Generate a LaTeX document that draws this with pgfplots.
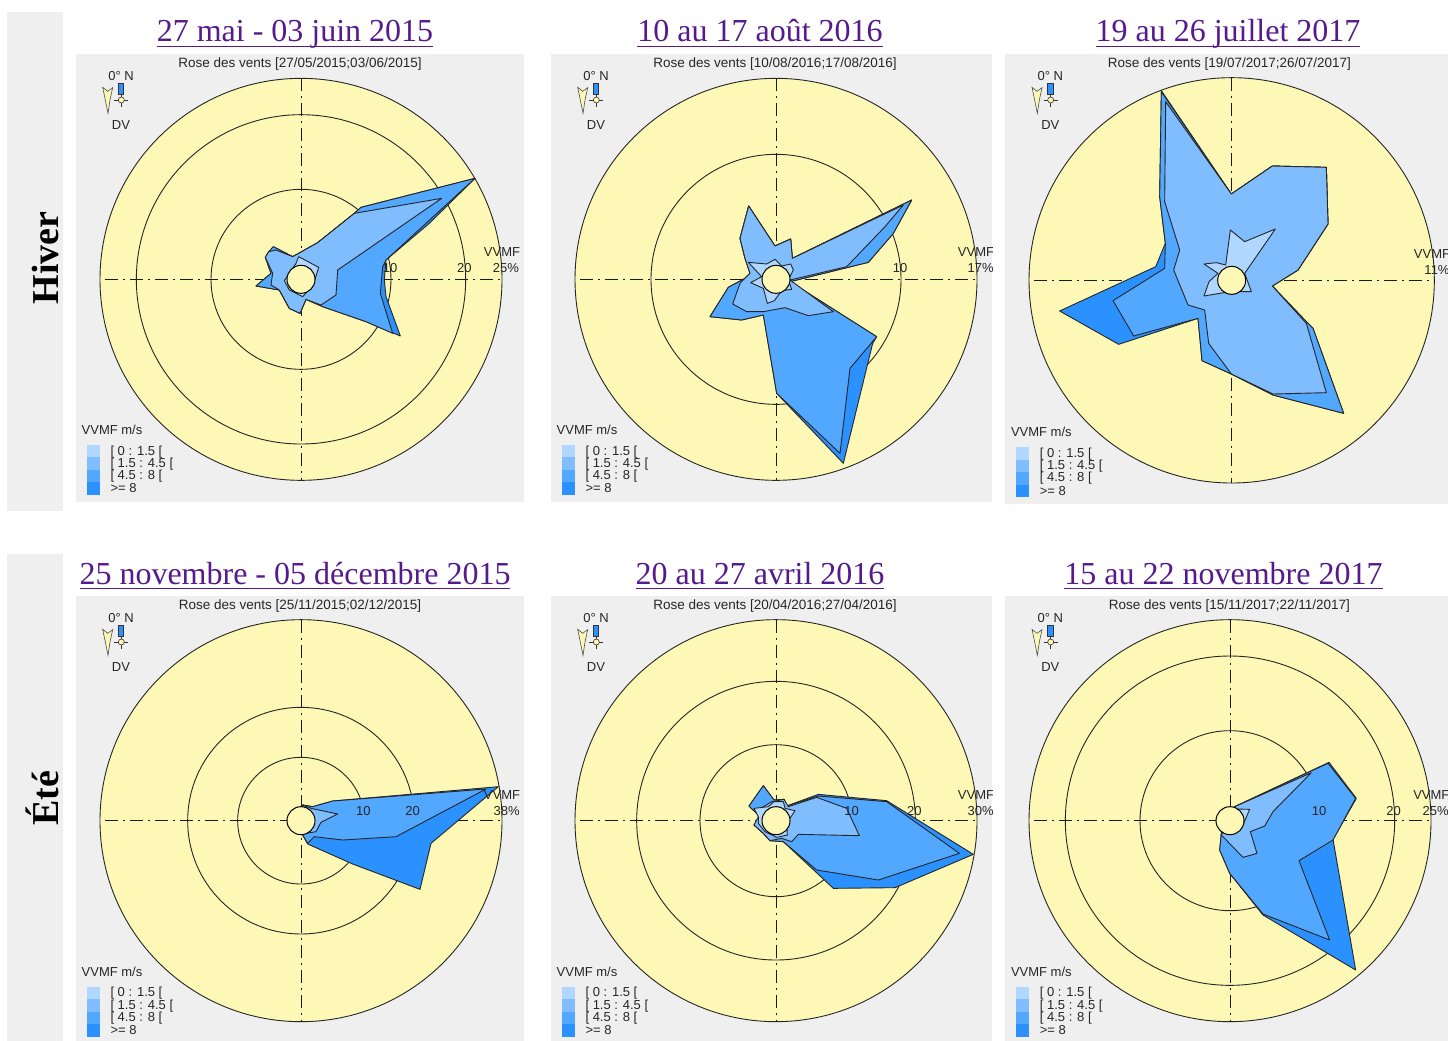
\documentclass[border=0pt]{standalone}
\usepackage{pgfplots}
\pgfplotsset{compat=1.18}
\usepackage{fontspec}
\setmainfont{Liberation Sans}
\newfontfamily\serif{Liberation Serif}
\definecolor{yel}{HTML}{FDF8B5}
\definecolor{pan}{HTML}{EFEFEF}
\definecolor{c1}{HTML}{AFD7FF}
\definecolor{c2}{HTML}{80BDFF}
\definecolor{c3}{HTML}{52A7FF}
\definecolor{c4}{HTML}{2A91FF}
\definecolor{lnk}{HTML}{551A8B}
\pgfplotsset{rose/.style n args={8}{xmin=#1,xmax=#2,ymin=#3,ymax=#4,
  at={(#5pt,-#6pt)},anchor=north west,width=#7pt,height=#8pt,scale only axis,
  y dir=reverse,hide axis,clip mode=global,axis on top=false},
  every axis plot/.append style={line width=0.9pt,draw=black!85,line join=round}}
\tikzset{txt/.style={font=\fontsize{13}{13}\selectfont,text=black!85,inner sep=0pt},
 cross/.style={line width=1pt,draw=black!90,dash pattern=on 13pt off 5pt on 2pt off 5pt}}
% frame: cx cy R
\newcommand\disc[3]{%
 \fill[pan] (rel axis cs:0,0) rectangle (rel axis cs:1,1);
 \draw[fill=yel,line width=0.9pt,draw=black!85] (axis cs:#1,#2) circle[radius=#3/3*1pt];
 \draw[cross] (axis cs:#1-#3+15,#2) -- (axis cs:#1+#3,#2);
 \draw[cross] (axis cs:#1,#2-#3) -- (axis cs:#1,#2+#3);}
\newcommand\ring[3]{\draw[line width=0.9pt,draw=black!85] (axis cs:#1,#2) circle[radius=#3/3*1pt];}
\newcommand\hub[2]{\draw[fill=yel,line width=1pt,draw=black] (axis cs:#1,#2) circle[radius=14pt];}
\newcommand\lab[3]{\node[txt] at (axis cs:#1,#2) {#3};}
% decor: dx dy legend-dy title
\newcommand\decor[4]{%
 \node[txt,font=\fontsize{13.5}{13.5}\selectfont] at (axis cs:672+#1,41+#2) {Rose des vents [#4]};
 \lab{135+#1}{78+#2}{0° N}
 \lab{135+#1}{226+#2}{DV}
 \filldraw[fill=yel,draw=black!70,line width=0.6pt] (axis cs:80+#1,112+#2) -- (axis cs:95+#1,124+#2) -- (axis cs:110+#1,113+#2) -- (axis cs:102+#1,150+#2) -- (axis cs:96+#1,190+#2) -- (axis cs:88+#1,150+#2) -- cycle;
 \filldraw[fill=c4,draw=black!80,line width=0.6pt] (axis cs:127+#1,100+#2) rectangle (axis cs:143+#1,133+#2);
 \draw[draw=black!80,line width=0.6pt] (axis cs:115+#1,150+#2) -- (axis cs:157+#1,150+#2) (axis cs:136+#1,133+#2) -- (axis cs:136+#1,170+#2);
 \draw[draw=black!80,fill=yel,line width=0.6pt] (axis cs:136+#1,150+#2) circle[radius=3pt];
 \lab{108+#1}{1140+#3}{VVMF m/s}
 \fill[c1] (axis cs:33+#1,1185+#3) rectangle (axis cs:72+#1,1222+#3);
 \fill[c2] (axis cs:33+#1,1222+#3) rectangle (axis cs:72+#1,1260+#3);
 \fill[c3] (axis cs:33+#1,1260+#3) rectangle (axis cs:72+#1,1297+#3);
 \fill[c4] (axis cs:33+#1,1297+#3) rectangle (axis cs:72+#1,1335+#3);
 \node[txt,anchor=west] at (axis cs:103+#1,1205+#3) {[ 0 : 1.5 [};
 \node[txt,anchor=west] at (axis cs:103+#1,1242+#3) {[ 1.5 : 4.5 [};
 \node[txt,anchor=west] at (axis cs:103+#1,1278+#3) {[ 4.5 : 8 [};
 \node[txt,anchor=west] at (axis cs:103+#1,1315+#3) {>= 8};}
\newcommand\ttl[3]{\node[inner sep=0pt,anchor=base,text=lnk,font=\serif\fontsize{32}{32}\selectfont] at (#1pt,-#2pt) {\underline{\smash{#3}\rule[-3pt]{0pt}{1pt}}};}
\begin{document}
\begin{tikzpicture}
\path[use as bounding box,fill=white] (0pt,0pt) rectangle (1448pt,-1041pt);
\fill[pan] (7pt,-12pt) rectangle (63pt,-511pt);
\fill[pan] (7pt,-554pt) rectangle (63pt,-1041pt);
\node[rotate=90,anchor=base,inner sep=0pt,font=\serif\bfseries\fontsize{38}{38}\selectfont] at (58pt,-258pt) {Hiver};
\node[rotate=90,anchor=base,inner sep=0pt,font=\serif\bfseries\fontsize{38}{38}\selectfont] at (58pt,-798pt) {Été};
\ttl{295}{42}{27 mai - 03 juin 2015}
\ttl{760}{42}{10 au 17 août 2016}
\ttl{1228}{42}{19 au 26 juillet 2017}
\ttl{295}{584}{25 novembre - 05 décembre 2015}
\ttl{760}{584}{20 au 27 avril 2016}
\ttl{1223.5}{584}{15 au 22 novembre 2017}

% Panel 1
\begin{axis}[rose={0}{1345}{12}{1355}{76}{54}{448.33}{447.67}]
\disc{675}{688}{603}
\ring{675}{688}{270}\ring{675}{688}{494}
\addplot[fill=c4] coordinates {(668,610)(725,578)(835,490)(855,472)(1197,385)(1060,520)(930,630)(925,690)(930,740)(973,858)(870,815)(740,770)(690,748)(672,790)(640,775)(610,720)(540,708)(585,670)(568,622)(592,590)(650,620)} --cycle;
\addplot[fill=c3] coordinates {(668,610)(725,578)(835,490)(855,472)(1197,385)(930,630)(920,650)(913,730)(950,850)(870,815)(740,770)(690,748)(672,790)(640,775)(610,720)(540,708)(585,670)(568,622)(578,605)(592,590)(650,620)} --cycle;
\addplot[fill=c2] coordinates {(668,610)(725,578)(835,490)(1097,445)(785,660)(780,735)(735,765)(690,748)(672,790)(640,775)(610,720)(585,705)(590,670)(568,622)(578,605)(600,600)(650,620)} --cycle;
\addplot[fill=c1] coordinates {(668,620)(728,652)(712,705)(680,740)(640,720)(625,692)(660,640)} --cycle;
\hub{675}{688}
\lab{942}{655}{10}\lab{1165}{655}{20}\lab{1278}{607}{VVMF}\lab{1290}{655}{25\%}
\decor{0}{0}{0}{27/05/2015;03/06/2015}
\end{axis}

% Panel 2
\begin{axis}[rose={3}{1326}{12}{1355}{551}{54}{441}{447.67}]
\disc{678}{688}{603}
\ring{678}{688}{375}
\addplot[fill=c4] coordinates {(596,468)(675,588)(722,567)(727,625)(1085,450)(1030,550)(955,637)(720,695)(980,860)(968,880)(880,1240)(680,1030)(640,795)(575,810)(480,800)(535,712)(585,685)(600,670)(585,625)(570,565)} --cycle;
\addplot[fill=c3] coordinates {(596,468)(675,588)(722,567)(727,625)(1085,450)(1030,550)(955,637)(720,695)(980,860)(900,955)(870,1210)(680,1030)(640,795)(575,810)(480,800)(535,712)(585,685)(600,670)(585,625)(570,565)} --cycle;
\addplot[fill=c2] coordinates {(596,468)(675,588)(722,567)(727,625)(1060,465)(1005,530)(890,650)(720,690)(850,785)(775,797)(705,773)(640,785)(590,785)(548,762)(570,700)(600,670)(585,625)(570,565)} --cycle;
\addplot[fill=c1] coordinates {(595,637)(650,642)(675,628)(695,648)(722,642)(730,660)(715,690)(725,718)(695,722)(673,752)(652,760)(640,715)(602,698)(635,680)} --cycle;
\hub{678}{688}
\lab{1050}{655}{10}\lab{1278}{607}{VVMF}\lab{1292}{655}{17\%}
\decor{3}{0}{0}{10/08/2016;17/08/2016}
\end{axis}

% Panel 3
\begin{axis}[rose={6}{1335}{12}{1362}{1005}{54}{443}{450}]
\disc{686}{691}{608}
\addplot[fill=c4] coordinates {(475,122)(685,432)(808,348)(970,352)(975,522)(885,660)(808,708)(910,815)(930,835)(1022,1090)(810,1035)(685,972)(597,932)(585,805)(347,883)(170,783)(458,650)(487,580)(470,440)} --cycle;
\addplot[fill=c3] coordinates {(475,125)(685,432)(808,348)(970,352)(975,522)(885,660)(808,708)(910,815)(930,835)(1022,1090)(810,1035)(685,972)(597,932)(585,805)(392,858)(330,752)(485,655)(487,580)(470,440)} --cycle;
\addplot[fill=c2] coordinates {(488,155)(685,432)(808,348)(970,352)(975,522)(885,660)(808,708)(910,820)(970,1028)(810,1032)(685,972)(617,880)(605,780)(555,765)(512,660)(530,600)(485,455)} --cycle;
\addplot[fill=c1] coordinates {(682,540)(725,575)(817,537)(725,670)(745,725)(680,725)(603,738)(618,695)(645,670)(603,642)(640,638)(668,645)} --cycle;
\hub{686}{691}
\lab{1287}{612}{VVMF}\lab{1302}{660}{11\%}
\decor{7}{0}{7}{19/07/2017;26/07/2017}
\end{axis}

% Panel 4
\begin{axis}[rose={0}{1345}{18}{1353}{76}{596}{448.33}{445}]
\disc{675}{692}{603}
\ring{675}{692}{190}\ring{675}{692}{340}
\addplot[fill=c4] coordinates {(680,645)(710,650)(770,633)(1267,590)(1065,760)(1032,898)(830,822)(695,762)(680,735)} --cycle;
\addplot[fill=c3] coordinates {(680,645)(710,650)(770,633)(1230,597)(960,740)(800,750)(715,740)(695,760)(680,735)} --cycle;
\addplot[fill=c2] coordinates {(680,645)(705,655)(785,672)(735,697)(720,725)(690,730)} --cycle;
\hub{675}{692}
\lab{862}{662}{10}\lab{1010}{662}{20}\lab{1278}{615}{VVMF}\lab{1292}{662}{38\%}
\decor{0}{6}{5}{25/11/2015;02/12/2015}
\end{axis}

% Panel 5
\begin{axis}[rose={3}{1326}{18}{1353}{551}{596}{441}{445}]
\disc{678}{692}{603}
\ring{678}{692}{228}\ring{678}{692}{418}
\addplot[fill=c4] coordinates {(640,587)(672,630)(702,628)(710,648)(805,613)(1010,632)(1270,793)(1035,893)(850,895)(700,755)(660,752)(640,730)(612,705)(630,680)(597,648)} --cycle;
\addplot[fill=c3] coordinates {(640,587)(672,630)(702,628)(710,648)(805,618)(1010,635)(1228,790)(985,870)(800,840)(700,755)(660,752)(640,730)(612,705)(630,680)(597,648)} --cycle;
\addplot[fill=c2] coordinates {(665,635)(702,628)(715,650)(800,622)(890,655)(928,737)(745,733)(725,755)(695,745)(660,752)(640,730)(612,705)(625,680)(640,650)} --cycle;
\addplot[fill=c1] coordinates {(612,655)(655,650)(672,635)(700,635)(705,655)(735,662)(710,700)(712,735)(680,742)(645,725)(625,700)(625,680)} --cycle;
\hub{678}{692}
\lab{905}{662}{10}\lab{1093}{662}{20}\lab{1278}{615}{VVMF}\lab{1292}{662}{30\%}
\decor{3}{6}{5}{20/04/2016;27/04/2016}
\end{axis}

% Panel 6
\begin{axis}[rose={6}{1335}{18}{1353}{1005}{596}{443}{445}]
\disc{681}{692}{603}
\ring{681}{692}{270}\ring{681}{692}{494}
\addplot[fill=c4] coordinates {(695,650)(978,517)(1060,625)(990,748)(1058,1140)(780,975)(680,850)(650,780)(655,730)} --cycle;
\addplot[fill=c3] coordinates {(695,650)(920,545)(975,520)(1058,625)(990,750)(888,812)(980,1050)(780,972)(680,850)(650,780)(655,730)} --cycle;
\addplot[fill=c2] coordinates {(695,650)(925,548)(810,665)(785,708)(742,725)(762,790)(720,802)(655,735)} --cycle;
\addplot[fill=c1] coordinates {(700,657)(740,658)(722,700)(690,700)} --cycle;
\hub{681}{692}
\lab{948}{662}{10}\lab{1172}{662}{20}\lab{1285}{615}{VVMF}\lab{1298}{662}{25\%}
\decor{7}{6}{5}{15/11/2017;22/11/2017}
\end{axis}
\end{tikzpicture}
\end{document}
